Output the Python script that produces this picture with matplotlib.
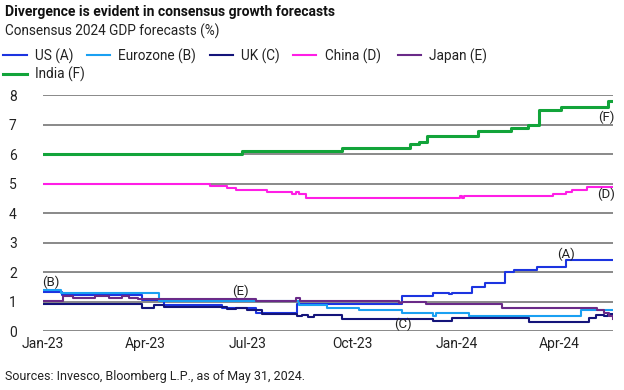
import matplotlib
matplotlib.use("Agg")
import matplotlib.pyplot as plt
import pandas as pd

plt.rcParams['font.family'] = ['Roboto', 'DejaVu Sans']

# step breakpoints (date, consensus 2024 GDP forecast %)
us_dates = ["2023-01-01", "2023-01-18", "2023-03-29", "2023-04-18", "2023-06-08", "2023-07-08",
            "2023-08-13", "2023-11-14", "2023-12-11", "2023-12-25", "2023-12-28", "2024-01-15",
            "2024-01-26", "2024-02-13", "2024-02-21", "2024-03-12", "2024-04-07", "2024-05-18"]
us_vals = [1.33, 1.22, 1.05, 0.9, 0.78, 0.6,
           0.92, 1.2, 1.3, 1.25, 1.3, 1.5,
           1.63, 2.0, 2.08, 2.18, 2.4, 2.4]

ez_dates = ["2023-01-01", "2023-01-17", "2023-04-13", "2023-08-15", "2023-09-09", "2023-10-07",
            "2023-11-14", "2023-12-11", "2023-12-14", "2023-12-18", "2024-01-12", "2024-04-20",
            "2024-05-18"]
ez_vals = [1.4, 1.3, 1.02, 0.88, 0.8, 0.72,
           0.62, 0.52, 0.6, 0.6, 0.52, 0.7,
           0.7]

uk_dates = ["2023-01-01", "2023-03-29", "2023-04-09", "2023-04-18", "2023-06-12", "2023-06-20",
            "2023-06-30", "2023-07-13", "2023-08-13", "2023-08-18", "2023-08-23", "2023-08-28",
            "2023-09-22", "2023-12-11", "2023-12-28", "2024-03-05", "2024-04-27", "2024-05-03",
            "2024-05-10", "2024-05-14", "2024-05-18"]
uk_vals = [0.92, 0.8, 0.9, 0.82, 0.74, 0.8,
           0.7, 0.58, 0.5, 0.56, 0.48, 0.55,
           0.42, 0.33, 0.45, 0.3, 0.45, 0.56,
           0.5, 0.58, 0.52]

cn_dates = ["2023-01-01", "2023-05-28", "2023-06-12", "2023-06-20", "2023-07-18", "2023-08-09",
            "2023-08-12", "2023-08-15", "2023-08-21", "2024-01-04", "2024-01-06", "2024-01-08",
            "2024-03-26", "2024-04-07", "2024-04-12", "2024-04-25", "2024-05-18"]
cn_vals = [5.0, 4.93, 4.86, 4.8, 4.7, 4.66,
           4.7, 4.64, 4.52, 4.58, 4.5, 4.58,
           4.65, 4.72, 4.8, 4.88, 4.9]

jp_dates = ["2023-01-01", "2023-01-19", "2023-01-27", "2023-02-16", "2023-02-28", "2023-03-12",
            "2023-03-18", "2023-03-26", "2023-07-08", "2023-08-12", "2023-08-16", "2023-11-11",
            "2023-11-14", "2023-12-05", "2024-02-10", "2024-05-04", "2024-05-10", "2024-05-15",
            "2024-05-18"]
jp_vals = [1.02, 1.2, 1.12, 1.2, 1.12, 1.2,
           1.12, 1.1, 1.03, 1.12, 1.03, 0.95,
           1.0, 0.93, 0.8, 0.7, 0.62, 0.5,
           0.42]

in_dates = ["2023-01-01", "2023-06-26", "2023-09-22", "2023-11-21", "2023-11-29", "2023-12-06",
            "2024-01-20", "2024-02-18", "2024-03-04", "2024-03-14", "2024-04-02", "2024-05-14",
            "2024-05-18"]
in_vals = [6.0, 6.1, 6.2, 6.35, 6.42, 6.62,
           6.8, 6.9, 7.0, 7.5, 7.6, 7.8,
           7.8]

series = [
    ("US (A)", us_dates, us_vals, "#1c34e0"),
    ("Eurozone (B)", ez_dates, ez_vals, "#1aa0f2"),
    ("UK (C)", uk_dates, uk_vals, "#14147a"),
    ("China (D)", cn_dates, cn_vals, "#ff1ee6"),
    ("Japan (E)", jp_dates, jp_vals, "#6a2a88"),
    ("India (F)", in_dates, in_vals, "#12a43a"),
]

tick_dates = ["2023-01-01", "2023-04-01", "2023-07-01", "2023-10-01", "2024-01-01", "2024-04-01"]
tick_labels = ["Jan-23", "Apr-23", "Jul-23", "Oct-23", "Jan-24", "Apr-24"]

fig = plt.figure(figsize=(6.24, 3.9), dpi=100)
ax = fig.add_axes([0.069, 0.151, 0.913, 0.605])

handles = {}
for name, d, v, c in series:
    lw = 2.2 if name.startswith("India") else 1.5
    line, = ax.plot(pd.to_datetime(d), v, drawstyle="steps-post", color=c, lw=lw, label=name, zorder=3)
    handles[name] = line

ax.set_ylim(0, 8)
ax.set_xlim(pd.Timestamp("2023-01-01"), pd.Timestamp("2024-05-18"))
ax.set_yticks(range(9))
ax.set_xticks(pd.to_datetime(tick_dates))
ax.set_xticklabels(tick_labels)
ax.grid(axis="y", color="#808080", lw=1.3, zorder=1)
for s in ax.spines.values():
    s.set_visible(False)
ax.tick_params(axis="both", length=0, labelsize=10, colors="#222222")
ax.tick_params(axis="y", pad=19)
ax.tick_params(axis="x", pad=4)

# series tags
tags = [("(A)", "2024-04-07", 2.62), ("(B)", "2023-01-08", 1.66), ("(C)", "2023-11-15", 0.23),
        ("(D)", "2024-05-12", 4.63), ("(E)", "2023-06-24", 1.35), ("(F)", "2024-05-12", 7.25)]
for t, d, y in tags:
    ax.text(pd.Timestamp(d), y, t, ha="center", va="center", fontsize=9.5, color="#222222", zorder=4)

fig.text(0.008, 0.968, "Divergence is evident in consensus growth forecasts", fontsize=10,
         fontweight="bold", color="#111111", va="center")
fig.text(0.008, 0.92, "Consensus 2024 GDP forecasts (%)", fontsize=9.8, color="#222222", va="center")
fig.text(0.008, 0.035, "Sources: Invesco, Bloomberg L.P., as of May 31, 2024.", fontsize=9,
         color="#222222", va="center")

leg_kw = dict(loc="upper left", frameon=False, fontsize=9.8, handlelength=1.7, handletextpad=0.6,
              columnspacing=1.0, borderaxespad=0, borderpad=0.25, labelcolor="#222222")
row1 = ["US (A)", "Eurozone (B)", "UK (C)", "China (D)"]
fig.legend([handles[k] for k in row1], row1, bbox_to_anchor=(0.0, 0.885), ncol=4, **leg_kw)
fig.legend([handles["Japan (E)"]], ["Japan (E)"], bbox_to_anchor=(0.632, 0.885), **leg_kw)
fig.legend([handles["India (F)"]], ["India (F)"], bbox_to_anchor=(0.0, 0.838), **leg_kw)

fig.savefig("out.png", dpi=100)
